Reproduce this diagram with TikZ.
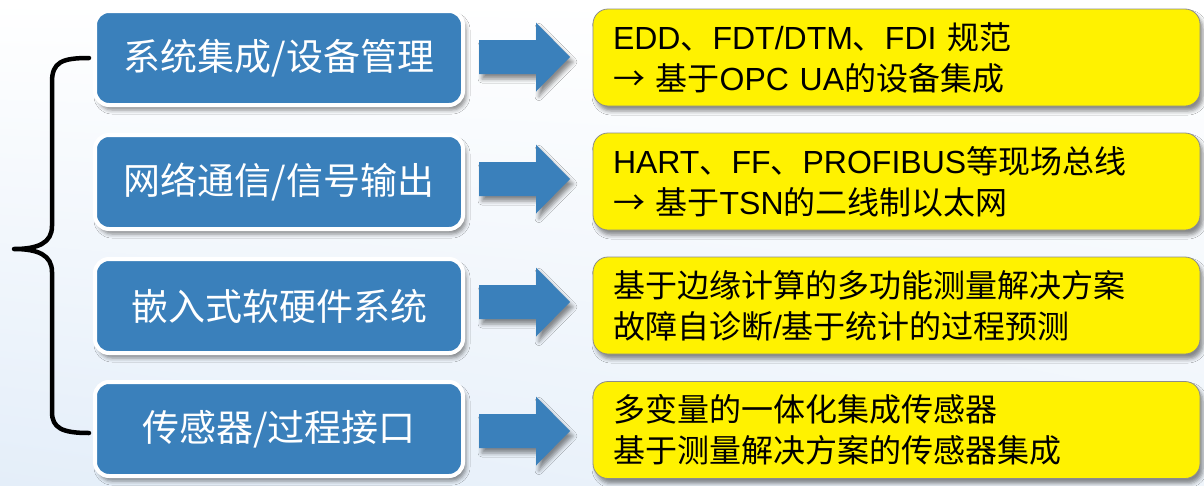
\documentclass[tikz,border=0pt]{standalone}
\usepackage{fontspec}
\setmainfont{Liberation Sans}
\newfontfamily\cjk{Noto Sans CJK SC}
\newfontfamily\lat{Liberation Sans}
\usetikzlibrary{shadows.blur,shadings}
\definecolor{boxblue}{RGB}{58,128,187}
\definecolor{bgblue}{RGB}{228,238,249}
\definecolor{ygray}{RGB}{140,140,140}
\tikzset{
  softshadow/.style={blur shadow={shadow xshift=3pt, shadow yshift=-5pt, shadow blur radius=4pt, shadow opacity=45}},
  bluebox/.style={draw=white, line width=4pt, fill=boxblue, rounded corners=14pt,
    minimum width=368pt, minimum height=94pt, inner sep=0pt, text=white,
    font=\cjk\fontsize{37}{44}\selectfont, softshadow},
  ybox/.style={draw=ygray, line width=0.8pt, fill=yellow, rounded corners=15pt,
    minimum width=607pt, minimum height=97pt, text width=567pt, inner xsep=20pt,
    inner ysep=0pt, align=left, text=black, font=\cjk\fontsize{32}{41}\selectfont, softshadow},
  rarrow/.pic={\fill[boxblue, softshadow] (0,-17) -- (57,-17) -- (57,-34.5) -- (91,0) -- (57,34.5) -- (57,17) -- (0,17) -- cycle;},
  bracestyle/.style={draw=black, line width=4.5pt, line cap=round, line join=round}
}
\begin{document}
\begin{tikzpicture}[x=1pt, y=-1pt]
\useasboundingbox (0,0) rectangle (1204,485);
\shade[upper left=white, upper right=white, lower left=bgblue, lower right=white!40!bgblue] (0,0) rectangle (1204,485);

% left boxes
\node[bluebox] (b1) at (279,58) {系统集成/设备管理};
\node[bluebox] (b2) at (279,182) {网络通信/信号输出};
\node[bluebox] (b3) at (279,306) {嵌入式软硬件系统};
\node[bluebox] (b4) at (279,429) {传感器/过程接口};

% arrows
\pic at (479,57) {rarrow};
\pic at (479,179) {rarrow};
\pic at (479,302) {rarrow};
\pic at (479,431) {rarrow};

% right boxes
\node[ybox] (y1) at (896.5,57.5) {{\lat EDD}、{\lat FDT/DTM}、{\lat FDI }规范\\→ 基于{\lat OPC UA}的设备集成};
\node[ybox] (y2) at (896.5,181.5) {{\lat HART}、{\lat FF}、{\lat PROFIBUS}等现场总线\\→ 基于{\lat TSN}的二线制以太网};
\node[ybox] (y3) at (896.5,305.5) {基于边缘计算的多功能测量解决方案\\故障自诊断{\lat /}基于统计的过程预测};
\node[ybox] (y4) at (896.5,430) {多变量的一体化集成传感器\\基于测量解决方案的传感器集成};

% brace
\coordinate (bt) at (89,58);
\coordinate (bm) at (14,249);
\coordinate (bb) at (89,433);
\path[bracestyle] (bt) .. controls (62,58) and (52,62) .. (52,82) -- (52,226)
  .. controls (52,243) and (38,249) .. (bm)
  .. controls (38,249) and (52,255) .. (52,272) -- (52,412)
  .. controls (52,428) and (62,433) .. (bb);
\end{tikzpicture}
\end{document}
